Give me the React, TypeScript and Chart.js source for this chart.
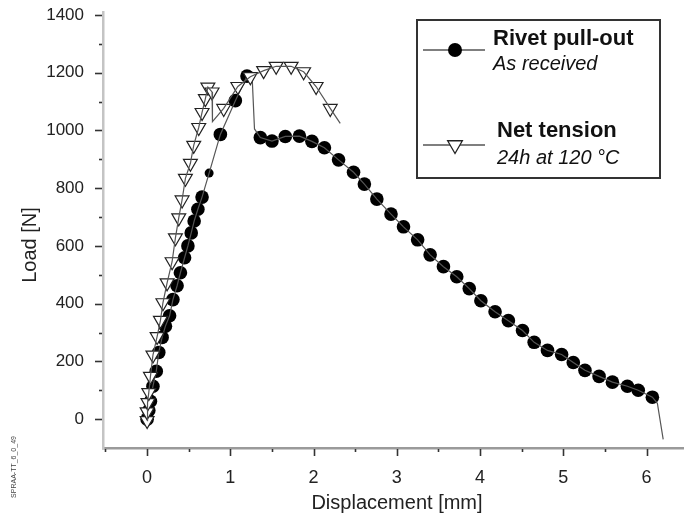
import React, { useEffect, useRef } from "react";
import { Chart, registerables } from "chart.js";

Chart.register(...registerables);

// ---- data ----
// Rivet pull-out, "As received": marker points
const rivetX = [0, 0.02, 0.04, 0.07, 0.11, 0.14, 0.18, 0.22, 0.27, 0.31, 0.36, 0.4, 0.45, 0.49, 0.53, 0.565, 0.61, 0.66, 0.745, 0.88, 1.06, 1.2,
  1.36, 1.5, 1.66, 1.83, 1.98, 2.13, 2.3, 2.48, 2.61, 2.76, 2.93, 3.08, 3.25, 3.4, 3.56, 3.72, 3.87, 4.01, 4.18, 4.34, 4.51, 4.65, 4.81, 4.98, 5.12, 5.26, 5.43, 5.59, 5.77, 5.9, 6.07];
const rivetY = [0, 30, 62, 114, 166, 231, 283, 322, 358, 414, 462, 507, 559, 600, 645, 686, 727, 769, 852, 986, 1103, 1188,
  975, 963, 979, 980, 962, 940, 898, 855, 814, 762, 710, 666, 621, 569, 528, 493, 452, 410, 372, 341, 307, 266, 238, 224, 196, 169, 148, 128, 114, 100, 76];
// Rivet pull-out: trace vertices without a marker (sudden drops)
const rivetTraceX = [1.26, 1.29, 6.13, 6.2];
const rivetTraceY = [1196, 1005, 55, -70];

// Net tension, "24h at 120 °C": marker points
const netX = [0, 0, 0.01, 0.02, 0.04, 0.07, 0.12, 0.16, 0.19, 0.24, 0.3, 0.34, 0.38, 0.42, 0.46, 0.52, 0.56, 0.62, 0.66, 0.7, 0.73, 0.78,
  0.92, 1.09, 1.24, 1.4, 1.55, 1.73, 1.88, 2.03, 2.2];
const netY = [-5, 25, 57, 92, 148, 222, 286, 342, 403, 472, 545, 628, 697, 759, 834, 886, 948, 1010, 1062, 1110, 1150, 1133,
  1076, 1152, 1186, 1207, 1222, 1222, 1203, 1152, 1076];
// Net tension: trace vertices without a marker
const netTraceX = [0.785, 2.32];
const netTraceY = [1030, 1024];

const xTicks = [0, 1, 2, 3, 4, 5, 6];
const xMinorTicks = [-0.5, 0.5, 1.5, 2.5, 3.5, 4.5, 5.5];
const yTicks = [0, 200, 400, 600, 800, 1000, 1200, 1400];
const yMinorTicks = [100, 300, 500, 700, 900, 1100, 1300];

const xTitle = "Displacement [mm]";
const yTitle = "Load [N]";
const series1Name = "Rivet pull-out";
const series1Sub = "As received";
const series2Name = "Net tension";
const series2Sub = "24h at 120 °C";
const sideNote = "SPRAA-TT_6_0_49";

const FONT = "'Liberation Sans', Arial, Helvetica, sans-serif";

function merge(xa: number[], ya: number[], xb: number[], yb: number[]) {
  const pts = xa.map((x, i) => ({ x, y: ya[i] }));
  xb.forEach((x, i) => pts.push({ x, y: yb[i] }));
  pts.sort((a, b) => a.x - b.x);
  return pts;
}

const decorPlugin = {
  id: "decor",
  afterDraw(chart: any) {
    const ctx = chart.ctx as CanvasRenderingContext2D;
    const xs = chart.scales.x;
    const ys = chart.scales.y;
    const area = chart.chartArea;
    ctx.save();
    // tick marks
    ctx.strokeStyle = "#333";
    ctx.lineWidth = 1.6;
    yTicks.forEach((v) => {
      const py = Math.round(ys.getPixelForValue(v)) + 0.5;
      ctx.beginPath();
      ctx.moveTo(area.left - 8, py);
      ctx.lineTo(area.left - 1, py);
      ctx.stroke();
    });
    yMinorTicks.forEach((v) => {
      const py = Math.round(ys.getPixelForValue(v)) + 0.5;
      ctx.beginPath();
      ctx.moveTo(area.left - 4, py);
      ctx.lineTo(area.left - 1, py);
      ctx.stroke();
    });
    xTicks.forEach((v) => {
      const px = Math.round(xs.getPixelForValue(v)) + 0.5;
      ctx.beginPath();
      ctx.moveTo(px, area.bottom + 1);
      ctx.lineTo(px, area.bottom + 8);
      ctx.stroke();
    });
    xMinorTicks.forEach((v) => {
      const px = Math.round(xs.getPixelForValue(v)) + 0.5;
      ctx.beginPath();
      ctx.moveTo(px, area.bottom + 1);
      ctx.lineTo(px, area.bottom + 4);
      ctx.stroke();
    });

    // axis titles
    ctx.fillStyle = "#222";
    ctx.font = `20px ${FONT}`;
    ctx.textAlign = "center";
    ctx.textBaseline = "middle";
    ctx.fillText(xTitle, 397, 503);
    ctx.save();
    ctx.translate(30, 245);
    ctx.rotate(-Math.PI / 2);
    ctx.fillText(yTitle, 0, 0);
    ctx.restore();

    // side note
    ctx.save();
    ctx.font = `7px ${FONT}`;
    ctx.fillStyle = "#444";
    ctx.translate(14, 467);
    ctx.rotate(-Math.PI / 2);
    ctx.fillText(sideNote, 0, 0);
    ctx.restore();

    // legend box
    ctx.fillStyle = "#fff";
    ctx.fillRect(417, 20, 243, 158);
    ctx.strokeStyle = "#333";
    ctx.lineWidth = 2;
    ctx.strokeRect(417, 20, 243, 158);

    ctx.strokeStyle = "#555";
    ctx.lineWidth = 1.3;
    ctx.beginPath();
    ctx.moveTo(423, 50);
    ctx.lineTo(485, 50);
    ctx.moveTo(423, 145);
    ctx.lineTo(485, 145);
    ctx.stroke();
    ctx.fillStyle = "#000";
    ctx.beginPath();
    ctx.arc(455, 50, 7, 0, Math.PI * 2);
    ctx.fill();
    // down triangle
    const r = 8.5;
    ctx.beginPath();
    ctx.moveTo(455, 145 + r);
    ctx.lineTo(455 - r * 0.866, 145 - r / 2);
    ctx.lineTo(455 + r * 0.866, 145 - r / 2);
    ctx.closePath();
    ctx.fillStyle = "#fff";
    ctx.fill();
    ctx.strokeStyle = "#222";
    ctx.lineWidth = 1.3;
    ctx.stroke();

    ctx.textAlign = "left";
    ctx.textBaseline = "alphabetic";
    ctx.fillStyle = "#111";
    ctx.font = `bold 22px ${FONT}`;
    ctx.fillText(series1Name, 493, 45);
    ctx.fillText(series2Name, 497, 137);
    ctx.font = `italic 20px ${FONT}`;
    ctx.fillText(series1Sub, 493, 70);
    ctx.fillText(series2Sub, 497, 164);
    ctx.restore();
  },
};

export default function App() {
  const ref = useRef<HTMLCanvasElement | null>(null);
  useEffect(() => {
    if (!ref.current) return;
    const rivetLine = merge(rivetX, rivetY, rivetTraceX, rivetTraceY);
    const netLine = merge(netX, netY, netTraceX, netTraceY);
    const chart = new Chart(ref.current, {
      type: "scatter",
      data: {
        datasets: [
          {
            label: series2Name + " line",
            data: netLine,
            showLine: true,
            borderColor: "#555",
            borderWidth: 1.2,
            pointRadius: 0,
            tension: 0,
          },
          {
            label: series2Name,
            data: netX.map((x, i) => ({ x, y: netY[i] })),
            showLine: false,
            pointStyle: "triangle",
            rotation: 180,
            pointRadius: 8,
            backgroundColor: "#fff",
            borderColor: "#222",
            borderWidth: 1.2,
          },
          {
            label: series1Name + " line",
            data: rivetLine,
            showLine: true,
            borderColor: "#555",
            borderWidth: 1.2,
            pointRadius: 0,
            tension: 0,
          },
          {
            label: series1Name,
            data: rivetX.map((x, i) => ({ x, y: rivetY[i] })),
            showLine: false,
            pointStyle: "circle",
            pointRadius: (c: any) => (rivetX[c.dataIndex] === 0.745 ? 4.5 : 6.8),
            backgroundColor: "#000",
            borderColor: "#000",
            borderWidth: 0,
          },
        ],
      },
      options: {
        animation: false,
        responsive: false,
        devicePixelRatio: 1,
        layout: { autoPadding: false, padding: { top: 12, right: 0, left: 0, bottom: 0 } },
        plugins: { legend: { display: false }, tooltip: { enabled: false } },
        scales: {
          x: {
            type: "linear",
            min: -0.53,
            max: 6.45,
            grid: { display: false },
            border: { display: true, color: "#9a9a9a", width: 2.5 },
            afterBuildTicks: (s: any) => {
              s.ticks = xTicks.map((v) => ({ value: v }));
            },
            afterFit: (s: any) => {
              s.height = 67;
              s.paddingLeft = 0;
              s.paddingRight = 0;
            },
            ticks: {
              padding: 11,
              color: "#222",
              font: { family: FONT, size: 18 },
              callback: (v: any) => String(v),
              maxRotation: 0,
              autoSkip: false,
            },
          },
          y: {
            type: "linear",
            min: -100,
            max: 1410,
            grid: { display: false },
            border: { display: true, color: "#c4c4c4", width: 2.5 },
            afterBuildTicks: (s: any) => {
              s.ticks = yTicks.map((v) => ({ value: v }));
            },
            afterFit: (s: any) => {
              s.width = 103;
              s.paddingTop = 0;
              s.paddingBottom = 0;
            },
            ticks: {
              padding: 11,
              color: "#222",
              font: { family: FONT, size: 17 },
              callback: (v: any) => String(v),
              autoSkip: false,
            },
          },
        },
      },
      plugins: [decorPlugin],
    });
    return () => chart.destroy();
  }, []);
  return (
    <div style={{ position: "absolute", left: 0, top: 0, width: 684, height: 515, background: "#fff" }}>
      <canvas ref={ref} width={684} height={515} style={{ display: "block" }} />
    </div>
  );
}
